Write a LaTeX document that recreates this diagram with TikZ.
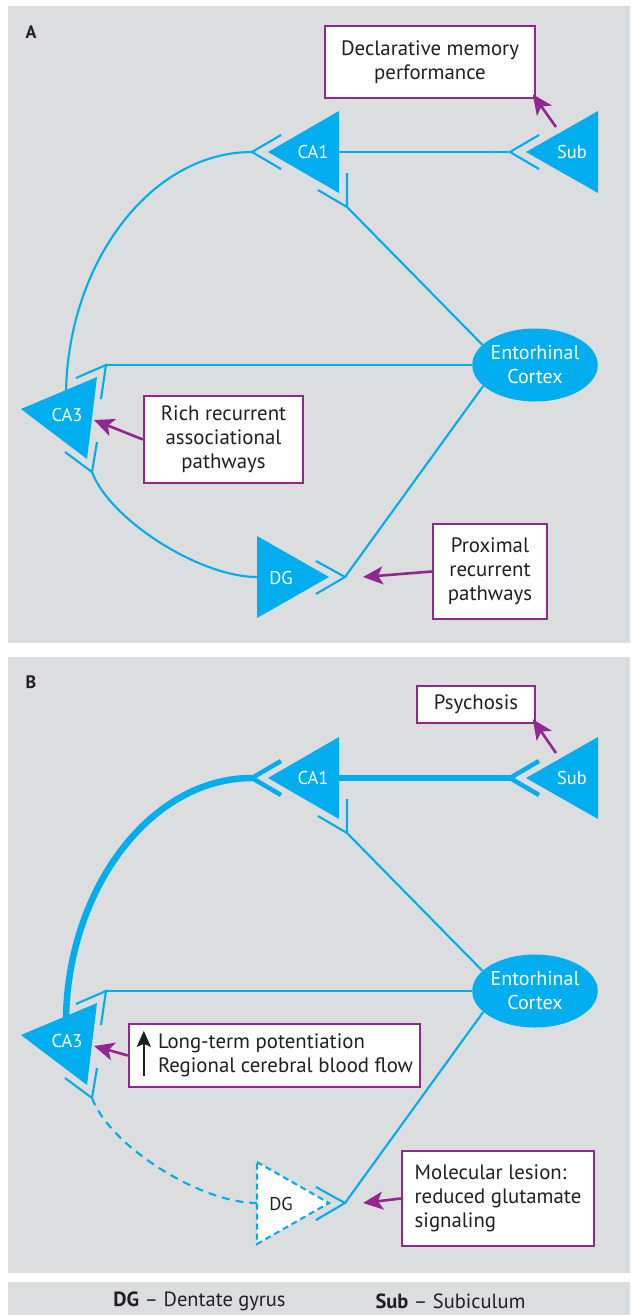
\documentclass[tikz,border=0pt]{standalone}
\usepackage{fontspec}
\setmainfont{PT Sans}
\usetikzlibrary{arrows.meta,calc,shapes.geometric}
\definecolor{bg}{HTML}{DCDDDF}
\definecolor{cy}{HTML}{00AEEF}
\definecolor{pu}{HTML}{92278F}
\definecolor{ink}{HTML}{231F20}
\tikzset{
  panel/.style={fill=bg},
  tag/.style={text=white, inner sep=0pt, font=\fontsize{18.5}{20}\selectfont},
  fibre/.style={draw=cy, line width=2.1pt},
  strong/.style={draw=cy, line width=6.5pt},
  strongchev/.style={draw=cy, line width=4.5pt},
  weak/.style={fibre, dash pattern=on 8pt off 6pt},
  lost/.style={fill=white, draw=cy, line width=2.1pt, dash pattern=on 6pt off 4pt},
  cortex/.style={ellipse, fill=cy, text=white, align=center, inner sep=0pt,
    minimum width=125pt, minimum height=73pt, font=\fontsize{20}{24}\selectfont},
  note/.style={draw=pu, line width=2.4pt, fill=white, text=ink, align=center,
    inner sep=6pt, font=\fontsize{20.8}{24}\selectfont},
  point/.style={draw=pu, line width=2.6pt, -{Stealth[length=20pt,width=18pt,inset=5pt]}},
  rise/.style={draw=ink, line width=2pt, -{Stealth[length=16pt,width=14pt,inset=3pt]}},
  key/.style={text=ink, font=\fontsize{20.5}{22}\selectfont},
  letter/.style={text=ink, font=\bfseries\fontsize{18}{20}\selectfont},
}
% chevron at the end of a fibre: junction, then its two arms
\newcommand{\chev}[4][fibre]{\draw[#1, line join=miter] (#2) ++(#3) -- (#2) -- ++(#4);}
% points that both panels share
\newcommand{\spots}[1]{%
  \coordinate (#1c1j) at (252,152);
  \coordinate (#1c1r) at (339,152);
  \coordinate (#1c1e) at (347,207);
  \coordinate (#1sbj) at (510,152);
  \coordinate (#1sbn) at (556,127);
  \coordinate (#1c3t) at (106,365);
  \coordinate (#1c3a) at (66,397);
  \coordinate (#1c3b) at (92,472);
  \coordinate (#1c3r) at (94,420);
  \coordinate (#1dgl) at (257,577);
  \coordinate (#1dgj) at (345,577);
  \coordinate (#1dgr) at (363,577);
  \node[cortex] (#1ec) at (535,365) {Entorhinal\\Cortex};}
\newcommand{\cells}[1]{%
  \fill[cy] (268,152) -- (339,111) -- (339,193) -- cycle;
  \node[tag] (#1ca1) at (313,152) {CA1};
  \fill[cy] (526,152) -- (598,111) -- (598,193) -- cycle;
  \node[tag] (#1sub) at (572,152) {Sub};
  \fill[cy] (21,409) -- (97,377) -- (87,459) -- cycle;
  \node[tag] (#1ca3) at (67,415) {CA3};}

\begin{document}
\begin{tikzpicture}[x=1pt,y=-1pt]
  \useasboundingbox (0,0) rectangle (630,1315);
  \fill[panel] (8,6) rectangle (630,643);
  \fill[panel] (8,657) rectangle (630,1273);
  \fill[panel] (8,1282) rectangle (630,1315);

  % A
  \node[letter] (pa) at (31,32) {A};
  \spots{a}
  \draw[fibre] (ac1r) -- (asbj);
  \draw[fibre] (ac1j) .. controls +(-103,0) and +(0,-131) .. (ac3a);
  \draw[fibre] (ac3b) .. controls +(18,48) and +(-57,0) .. (adgl);
  \draw[fibre] (ac1e) -- (aec.159);
  \draw[fibre] (ac3t) -- (aec.west);
  \draw[fibre] (adgj) -- (aec.202);
  \chev{ac1j}{29,-17}{29,17}
  \chev{asbj}{29,-17}{29,17}
  \chev{ac1e}{0,-34}{-29,-17}
  \chev{ac3t}{-5,34}{-30,13}
  \chev{ac3b}{5,-30}{-27,-20}
  \chev{adgj}{-29,-16}{-29,17}
  \cells{a}
  \fill[cy] (257,536) -- (329,577) -- (257,618) -- cycle;
  \node[tag] (adg) at (281,578) {DG};
  \node[note, minimum width=210pt, minimum height=72pt] (decl) at (430,62) {Declarative memory\\performance};
  \node[note, minimum width=159pt, minimum height=87pt] (rich) at (223.5,439.5) {Rich recurrent\\associational\\pathways};
  \node[note, minimum width=114pt, minimum height=95pt] (prox) at (490,571.5) {Proximal\\recurrent\\pathways};
  \draw[point, shorten >=-6pt] (asbn) -- (decl.south east);
  \draw[point] (rich.west) -- (ac3r);
  \draw[point] (prox.west) -- (adgr);

  % B
  \node[letter] (pb) at (31,682) {B};
  \begin{scope}[shift={(0,626)}]
    \spots{b}
    \draw[strong] (bc1r) -- (bsbj);
    \draw[strong] (bc1j) .. controls +(-103,0) and +(0,-131) .. (bc3a);
    \draw[weak] (bc3b) .. controls +(18,48) and +(-57,0) .. (bdgl);
    \draw[fibre] (bc1e) -- (bec.159);
    \draw[fibre] (bc3t) -- (bec.west);
    \draw[fibre] (bdgj) -- (bec.202);
    \chev[strongchev]{bc1j}{29,-17}{29,17}
    \chev[strongchev]{bsbj}{29,-17}{29,17}
    \chev{bc1e}{0,-34}{-29,-17}
    \chev{bc3t}{-5,34}{-30,13}
    \chev{bc3b}{5,-30}{-27,-20}
    \chev{bdgj}{-29,-16}{-29,17}
    \cells{b}
    \draw[lost] (257,536) -- (329,577) -- (257,618) -- cycle;
    \node[tag, text=ink] (bdg) at (281,578) {DG};
    \node[note, minimum width=118pt, minimum height=37pt] (psy) at (476,78.5) {Psychosis};
    \node[note, minimum width=291pt, minimum height=63pt] (ltp) at (274.5,429.5)
      {\hspace*{22pt}\begin{tabular}{@{}l@{}}Long-term potentiation\\Regional cerebral blood flow\end{tabular}};
    \node[note, align=left, minimum width=192pt, minimum height=95pt] (lesion) at (498,572.5)
      {Molecular lesion:\\reduced glutamate\\signaling};
    \draw[rise] ($(ltp.south west)+(16,-12)$) -- ($(ltp.north west)+(16,8)$);
    \draw[point, shorten >=-6pt] (bsbn) -- (psy.south east);
    \draw[point] (ltp.west) -- (bc3r);
    \draw[point] (lesion.west) -- (bdgr);
  \end{scope}

  % key
  \node[key] (kdg) at (199.5,1301) {\textbf{DG} -- Dentate gyrus};
  \node[key] (ksub) at (450.5,1301) {\textbf{Sub} -- Subiculum};
\end{tikzpicture}
\end{document}
